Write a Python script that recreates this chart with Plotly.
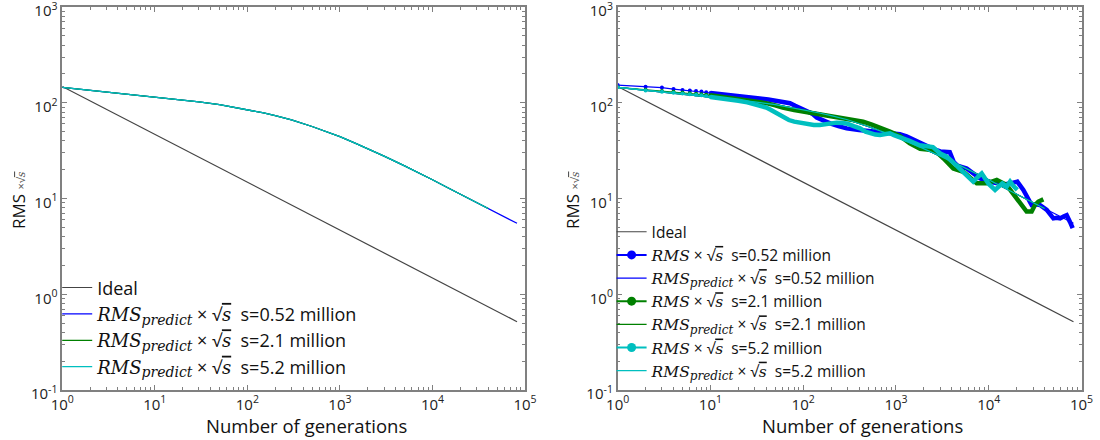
import plotly.graph_objects as go

# ---------------- data ----------------
ideal_x = [1, 81920]
ideal_y = [148, 0.517]

pred_x = [1, 2, 3, 5, 10, 20, 30, 50, 100, 150, 200, 300, 500, 700, 1000, 1500, 2000,
          3000, 5000, 7000, 10000, 15000, 20000, 30000, 40000, 60000, 81920]
pred_052 = [144.9, 135.2, 129.7, 123.3, 115.1, 107.2, 102.1, 95.7, 85.1, 78.2, 73.5, 66.4,
            56.5, 50.5, 44.3, 37.4, 33.1, 27.7, 21.9, 18.7, 15.7, 12.8, 11.1, 9.08, 7.87,
            6.43, 5.51]
pred_21 = [144.9, 135.2, 129.7, 123.3, 115.1, 107.2, 102.1, 95.7, 85.1, 78.2, 73.5, 66.4,
           56.5, 50.5, 44.3, 37.4, 33.1, 27.7, 21.9, 18.7, 15.7, 12.8, 11.1, 9.08, 7.87]
pred_52 = [144.9, 135.2, 129.7, 123.3, 115.1, 107.2, 102.1, 95.7, 85.1, 78.2, 73.5, 66.4,
           56.5, 50.5, 44.3, 37.4, 33.1, 27.7, 21.9, 18.7, 15.7, 12.8, 11.1, 9.08, 7.87]

blue_x = [1, 2, 3, 4, 5, 6, 7, 8, 9, 10, 12, 15, 18, 22, 27, 34, 42, 52, 62, 72,
          82, 95, 110, 125, 140, 170, 195, 240, 294, 400, 500, 673, 940, 1100, 1300,
          1540, 1970, 2500, 3000, 3500, 3800, 4200, 4600, 5800, 8000, 10000, 12200,
          14500, 17000, 20300, 23600, 26700, 29000, 32000, 35700, 42200, 49700, 54000,
          58700, 64000, 69200, 75100, 80300]
blue_y = [153, 147, 144, 139, 136, 134, 133, 131, 128.5, 126.5, 124.5, 122, 120, 117.5,
          114, 111, 108, 105, 101, 99, 93, 87, 83, 77, 70, 64, 61, 57, 54, 52, 51, 50, 48,
          47, 44.5, 41, 36, 33, 31, 31, 30.5, 24, 22, 20.6, 16.3, 15, 14.4, 14, 14.4, 15,
          12.3, 9.7, 8.55, 8.7, 8.55, 7.6, 6.2, 6.3, 6.2, 6.5, 6.7, 5.7, 4.9]

green_x = [1, 2, 3, 4, 5, 6, 7, 8, 9, 10, 12, 15, 20, 25, 30, 40, 50, 60, 80, 100, 120,
           150, 195, 250, 300, 443, 550, 673, 860, 1100, 1410, 1820, 2200, 2600, 3240,
           4150, 5330, 6300, 7420, 9500, 12200, 15600, 18400, 21700, 25600, 29000, 31500,
           34300, 38800]
green_y = [145, 137, 133, 130, 128, 126, 124, 122.5, 121, 119.5, 116.5, 113, 109, 106,
           104, 99, 94, 89, 84, 81, 79, 75, 72, 69, 67, 63.4, 59, 55, 50, 45, 37.7, 33,
           32.5, 32, 26.3, 20.6, 19, 16.5, 14.4, 14.4, 15.6, 13.8, 11.3, 8.9, 7.3, 7.3,
           8.55, 9.3, 9.8]

cyan_x = [1, 2, 3, 4, 5, 6, 7, 8, 9, 10, 12, 15, 20, 25, 30, 35, 40, 45, 52, 60, 70, 80,
          92, 110, 130, 151, 175, 195, 230, 270, 300, 350, 410, 470, 525, 600, 673, 760,
          860, 950, 1100, 1400, 1800, 2200, 2500, 3000, 3500, 4000, 4500, 5300, 6000,
          6800, 7500, 8400, 9200, 10000, 11700, 13000, 14000, 15600, 17000, 18500, 20300]
cyan_y = [145, 134, 130, 127, 125, 123, 121, 119.5, 118, 115, 113, 110, 105, 101, 97, 94,
          89, 84, 78, 71, 66, 63.5, 62, 60, 58.6, 58.6, 60, 61, 62, 61.5, 60.5, 57, 54, 50,
          48, 46.5, 46, 47, 48, 46, 44, 40, 36, 35, 34.5, 29.5, 27.5, 24.5, 22, 18.5, 16.5,
          15, 16.5, 18.3, 16, 14.2, 12.3, 13.8, 14.4, 13.3, 15, 13.5, 12.3]

sizes = ["0.52", "2.1", "5.2"]
colors = ["#0000ff", "#008000", "#00bfbf"]
tick_labels_x = ["10<sup>0</sup>", "10<sup>1</sup>", "10<sup>2</sup>", "10<sup>3</sup>",
                 "10<sup>4</sup>", "10<sup>5</sup>"]
tick_labels_y = ["10<sup>-1</sup>", "10<sup>0</sup>", "10<sup>1</sup>", "10<sup>2</sup>",
                 "10<sup>3</sup>"]

# ---------------- helpers ----------------
SERIF = "font-family:DejaVu Serif;font-style:italic"
NB = "\u00a0"


def it(t):
    return f"<span style='{SERIF}'>{t}</span>"


SQRT_S = "√<span style='text-decoration:overline;" + SERIF + "'>s</span>"


def lab_rms(s):
    return f"{it('RMS')} × {SQRT_S}{NB}{NB}s={s} million"


def lab_pred(s, sub_size):
    sub = f"<span style='{SERIF};font-size:{sub_size}px'>predict</span>"
    return f"{it('RMS')}<sub>{sub}</sub> × {SQRT_S}{NB}{NB}s={s} million"


fig = go.Figure()

# ---- left panel ----
fig.add_trace(go.Scatter(x=ideal_x, y=ideal_y, mode="lines", name="Ideal",
                         line=dict(color="#444444", width=1.2), xaxis="x", yaxis="y",
                         legend="legend"))
left_preds = [(pred_x, pred_052), (pred_x[:len(pred_21)], pred_21),
              (pred_x[:len(pred_52)], pred_52)]
for (px, py), s, c in zip(left_preds, sizes, colors):
    fig.add_trace(go.Scatter(x=px, y=py, mode="lines", name=lab_pred(s, 14),
                             line=dict(color=c, width=1.3),
                             xaxis="x", yaxis="y", legend="legend"))

# ---- right panel ----
fig.add_trace(go.Scatter(x=ideal_x, y=ideal_y, mode="lines", name="Ideal",
                         line=dict(color="#444444", width=1.2), xaxis="x2", yaxis="y2",
                         legend="legend2"))
meas = [(blue_x, blue_y), (green_x, green_y), (cyan_x, cyan_y)]
for (mx, my), (px, py), s, c in zip(meas, left_preds, sizes, colors):
    lo_x = [v for v in mx if v <= 10]
    lo_y = my[:len(lo_x)]
    hi_x = [v for v in mx if v >= 10]
    hi_y = my[len(mx) - len(hi_x):]
    fig.add_trace(go.Scatter(x=[None], y=[None], mode="lines+markers", name=lab_rms(s),
                             line=dict(color=c, width=2), marker=dict(color=c, size=9),
                             xaxis="x2", yaxis="y2", legend="legend2", legendgroup=c))
    fig.add_trace(go.Scatter(x=lo_x, y=lo_y, mode="lines+markers", showlegend=False,
                             line=dict(color=c, width=1.2), marker=dict(color=c, size=4),
                             xaxis="x2", yaxis="y2", legendgroup=c))
    fig.add_trace(go.Scatter(x=hi_x, y=hi_y, mode="lines", showlegend=False,
                             line=dict(color=c, width=4.5),
                             xaxis="x2", yaxis="y2", legendgroup=c))
    fig.add_trace(go.Scatter(x=px, y=py, mode="lines", name=lab_pred(s, 12),
                             line=dict(color=c, width=1.2),
                             xaxis="x2", yaxis="y2", legend="legend2"))

AX = "#808080"
minor_x = [m * 10 ** e for e in range(0, 5) for m in range(2, 10)]
minor_y = [m * 10 ** e for e in range(-1, 3) for m in range(2, 10)]


def xaxis(domain, anchor):
    return dict(type="log", range=[0, 5], domain=domain, anchor=anchor, automargin=False,
                showline=True, linecolor=AX, linewidth=1.5, mirror="allticks",
                ticks="inside", ticklen=5, tickcolor=AX, showgrid=False, zeroline=False,
                tickmode="array", tickvals=[1, 10, 100, 1000, 10000, 100000],
                ticktext=tick_labels_x, tickfont=dict(size=15, color="#222222"),
                ticklabeloverflow="allow",
                minor=dict(ticks="inside", ticklen=3, tickcolor=AX, tickmode="array",
                           tickvals=minor_x, showgrid=False))


def yaxis(domain, anchor):
    return dict(type="log", range=[-1, 3.0001], domain=domain, anchor=anchor,
                automargin=False,
                showline=True, linecolor=AX, linewidth=1.5, mirror="allticks",
                ticks="inside", ticklen=5, tickcolor=AX, showgrid=False, zeroline=False,
                tickmode="array", tickvals=[0.1, 1, 10, 100, 1000],
                ticktext=tick_labels_y, tickfont=dict(size=15, color="#222222"),
                ticklabeloverflow="allow", ticklabelshift=4,
                minor=dict(ticks="inside", ticklen=3, tickcolor=AX, tickmode="array",
                           tickvals=minor_y, showgrid=False))


YDOM = [0.1136, 0.9841]
fig.update_layout(
    width=1100, height=440,
    margin=dict(l=0, r=0, t=0, b=0, pad=0, autoexpand=False),
    paper_bgcolor="white", plot_bgcolor="white",
    font=dict(family="Open Sans", color="#111111"),
    xaxis=xaxis([0.0566, 0.4773], "y"),
    yaxis=yaxis(YDOM, "x"),
    xaxis2=xaxis([0.5615, 0.9832], "y2"),
    yaxis2=yaxis(YDOM, "x2"),
    showlegend=True,
    legend=dict(x=0.052, y=0.388, xanchor="left", yanchor="top", bgcolor="rgba(0,0,0,0)",
                font=dict(size=18, family="Open Sans", color="#111111"),
                itemwidth=30, tracegroupgap=0),
    legend2=dict(x=0.556, y=0.511, xanchor="left", yanchor="top", bgcolor="rgba(0,0,0,0)",
                 font=dict(size=15.5, family="Open Sans", color="#111111"),
                 itemwidth=30, tracegroupgap=0),
)

ytitle = ("RMS <span style='font-size:11px;color:#555555'>×√"
          "<span style='text-decoration:overline;" + SERIF + "'>s</span></span>")
for xc in [18, 572]:
    fig.add_annotation(text=ytitle, x=xc / 1100, y=1 - 200 / 440, xref="paper",
                       yref="paper", xanchor="center", yanchor="middle", textangle=-90,
                       showarrow=False, font=dict(size=17, family="Open Sans"))
for xc in [306, 862]:
    fig.add_annotation(text="Number of generations", x=xc / 1100, y=1 - 425 / 440,
                       xref="paper", yref="paper", xanchor="center", yanchor="middle",
                       showarrow=False,
                       font=dict(size=18.5, family="Open Sans", color="#111111"))

fig.write_html("out.html")
